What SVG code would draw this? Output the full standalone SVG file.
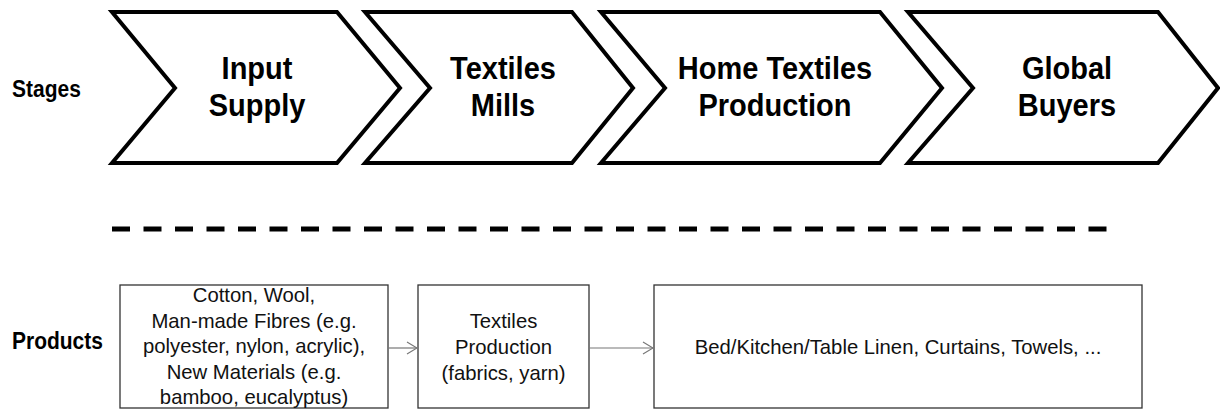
<svg xmlns="http://www.w3.org/2000/svg" width="1220" height="409" viewBox="0 0 1220 409">
<style>
.chev{fill:#fff;stroke:#000;stroke-width:4;stroke-linejoin:miter}
.st{font-family:"Liberation Sans",Arial,sans-serif;font-weight:bold;font-size:29px;fill:#000;text-anchor:middle}
.lab{font-family:"Liberation Sans",Arial,sans-serif;font-weight:bold;font-size:21px;fill:#000}
.box{fill:#fff;stroke:#333;stroke-width:1.3}
.bt{font-family:"Liberation Sans",Arial,sans-serif;font-size:20.3px;fill:#111;text-anchor:middle}
.con{stroke:#777;stroke-width:1.2;fill:none}
</style>
<defs>
<marker id="arr" viewBox="0 0 12 14" refX="11" refY="7" markerWidth="12" markerHeight="14" markerUnits="userSpaceOnUse" orient="auto">
<path d="M1,1 L11,7 L1,13" fill="none" stroke="#777" stroke-width="1.2"/>
</marker>
</defs>
<text class="lab" x="12" y="97" transform="matrix(1,0,0,1.1,0,-9.7)">Stages</text>
<text class="lab" x="12" y="349" transform="matrix(1,0,0,1.1,0,-34.9)">Products</text>
<g id="stage-input">
<polygon class="chev" points="112,12 337,12 400,88 337,163 112,163 175,88"/>
<text class="st" x="257" y="79" transform="matrix(1,0,0,1.1,0,-7.9)">Input</text>
<text class="st" x="257" y="116" transform="matrix(1,0,0,1.1,0,-11.6)">Supply</text>
</g>
<g id="stage-mills">
<polygon class="chev" points="365,12 572,12 633,88 572,163 365,163 430,88"/>
<text class="st" x="503" y="79" transform="matrix(1,0,0,1.1,0,-7.9)">Textiles</text>
<text class="st" x="503" y="116" transform="matrix(1,0,0,1.1,0,-11.6)">Mills</text>
</g>
<g id="stage-home">
<polygon class="chev" points="601,12 880,12 942,88 880,163 601,163 665,88"/>
<text class="st" x="775" y="79" transform="matrix(1,0,0,1.1,0,-7.9)">Home Textiles</text>
<text class="st" x="775" y="116" transform="matrix(1,0,0,1.1,0,-11.6)">Production</text>
</g>
<g id="stage-buyers">
<polygon class="chev" points="908,12 1158,12 1218,88 1158,163 908,163 973,88"/>
<text class="st" x="1067" y="79" transform="matrix(1,0,0,1.1,0,-7.9)">Global</text>
<text class="st" x="1067" y="116" transform="matrix(1,0,0,1.1,0,-11.6)">Buyers</text>
</g>
<line x1="112" y1="229" x2="1107" y2="229" stroke="#000" stroke-width="5" stroke-dasharray="18 13.5"/>
<g id="prod-input">
<rect class="box" x="120" y="285" width="268" height="123"/>
<text class="bt" x="254" y="302">Cotton, Wool,</text>
<text class="bt" x="254" y="327.5">Man-made Fibres (e.g.</text>
<text class="bt" x="254" y="353">polyester, nylon, acrylic),</text>
<text class="bt" x="254" y="378.5">New Materials (e.g.</text>
<text class="bt" x="254" y="404">bamboo, eucalyptus)</text>
</g>
<g id="prod-textiles">
<rect class="box" x="418" y="285" width="171" height="123"/>
<text class="bt" x="503.5" y="328">Textiles</text>
<text class="bt" x="503.5" y="354">Production</text>
<text class="bt" x="503.5" y="380">(fabrics, yarn)</text>
</g>
<g id="prod-home">
<rect class="box" x="654" y="285" width="488" height="123"/>
<text class="bt" x="898" y="354">Bed/Kitchen/Table Linen, Curtains, Towels, ...</text>
</g>
<g id="connectors">
<line class="con" x1="388" y1="348" x2="417" y2="348" marker-end="url(#arr)"/>
<line class="con" x1="589" y1="348" x2="653" y2="348" marker-end="url(#arr)"/>
</g>
</svg>
